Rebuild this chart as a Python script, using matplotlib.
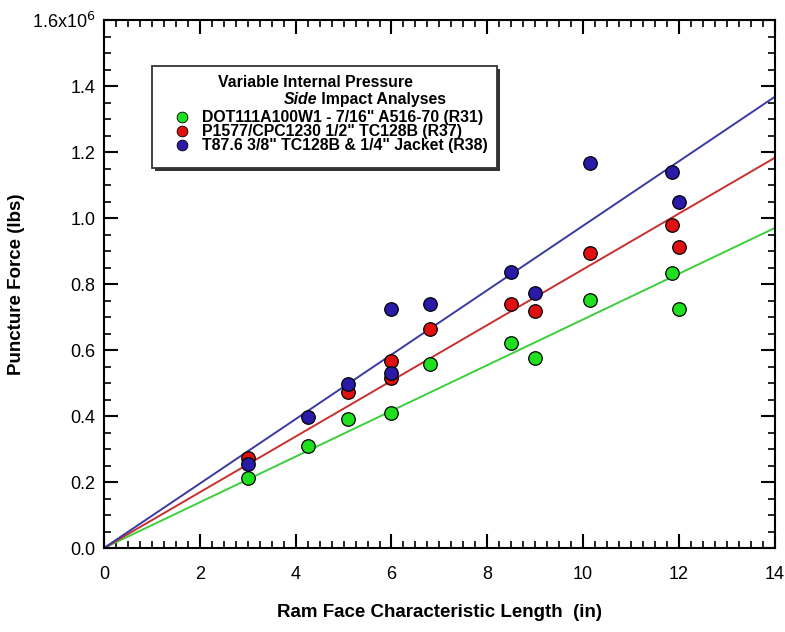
import numpy as np
import matplotlib.pyplot as plt
from matplotlib.ticker import MultipleLocator, FuncFormatter
from matplotlib.patches import Rectangle

plt.rcParams['font.family'] = ['Liberation Sans', 'DejaVu Sans']

# ram face length (in) and puncture force (lbs)
x_r31 = [3.0, 4.25, 5.1, 6.0, 6.8, 8.5, 9.0, 10.15, 11.85, 12.0]
y_r31 = [0.213e6, 0.309e6, 0.390e6, 0.409e6, 0.557e6, 0.620e6, 0.576e6, 0.752e6, 0.833e6, 0.724e6]

x_r37 = [3.0, 5.1, 6.0, 6.0, 6.8, 8.5, 9.0, 10.15, 11.85, 12.0]
y_r37 = [0.273e6, 0.473e6, 0.567e6, 0.515e6, 0.664e6, 0.739e6, 0.718e6, 0.893e6, 0.980e6, 0.913e6]

x_r38 = [3.0, 4.25, 5.1, 6.0, 6.0, 6.8, 8.5, 9.0, 10.15, 11.85, 12.0]
y_r38 = [0.255e6, 0.397e6, 0.497e6, 0.724e6, 0.530e6, 0.739e6, 0.836e6, 0.772e6, 1.167e6, 1.140e6, 1.050e6]

labels = ['DOT111A100W1 - 7/16" A516-70 (R31)',
          'P1577/CPC1230 1/2" TC128B (R37)',
          'T87.6 3/8" TC128B & 1/4" Jacket (R38)']
point_colors = ['#1ee01e', '#e01010', '#2a1aa8']
line_colors = ['#3ccf3c', '#c83030', '#3a3aa0']

series = [(x_r31, y_r31), (x_r37, y_r37), (x_r38, y_r38)]

fig = plt.figure(figsize=(7.85, 6.32), dpi=100)
ax = fig.add_axes([0.1325, 0.1329, 0.8545, 0.8354])

xl = np.array([0, 14])
for (xs, ys), pc, lc in zip(series, point_colors, line_colors):
    xs = np.array(xs)
    ys = np.array(ys)
    # least squares line through the origin
    k = np.sum(xs * ys) / np.sum(xs * xs)
    ax.plot(xl, k * xl, color=lc, lw=1.4, zorder=2)
    ax.scatter(xs, ys, s=95, color=pc, edgecolor='black', linewidth=0.9, zorder=3)

ax.set_xlim(0, 14)
ax.set_ylim(0, 1.6e6)
ax.xaxis.set_major_locator(MultipleLocator(2))
ax.xaxis.set_minor_locator(MultipleLocator(0.25))
ax.yaxis.set_major_locator(MultipleLocator(0.2e6))
ax.yaxis.set_minor_locator(MultipleLocator(0.05e6))


def yfmt(v, pos):
    if abs(v - 1.6e6) < 1:
        return '1.6x10$^6$'
    return '%.1f' % (v / 1e6)


ax.yaxis.set_major_formatter(FuncFormatter(yfmt))
ax.tick_params(which='both', direction='in', top=True, right=True, width=1.5)
ax.tick_params(which='major', length=10, labelsize=13, pad=6)
ax.tick_params(axis='x', which='major', pad=13)
ax.tick_params(which='minor', length=5, width=1.2)
for sp in ax.spines.values():
    sp.set_linewidth(1.5)

ax.set_xlabel('Ram Face Characteristic Length  (in)', fontsize=13.5, fontweight='bold')
ax.set_ylabel('Puncture Force (lbs)', fontsize=13.5, fontweight='bold')
ax.xaxis.set_label_coords(0.5, -0.106)
ax.yaxis.set_label_coords(-0.118, 0.5)

# legend box
bx0, by0, bw, bh = 0.0715, 0.72, 0.515, 0.193
ax.add_patch(Rectangle((bx0 + 0.004, by0 - 0.006), bw, bh, transform=ax.transAxes,
                       facecolor='#333333', edgecolor='none', zorder=4))
ax.add_patch(Rectangle((bx0, by0), bw, bh, transform=ax.transAxes,
                       facecolor='white', edgecolor='#333333', lw=1.3, zorder=5))
ax.text(0.315, 0.882, 'Variable Internal Pressure', transform=ax.transAxes,
        ha='center', va='center', fontsize=11.4, fontweight='bold', zorder=6)
ax.text(0.318, 0.849, 'Side', transform=ax.transAxes, ha='right', va='center',
        fontsize=11.4, fontweight='bold', style='italic', zorder=6)
ax.text(0.318, 0.849, ' Impact Analyses', transform=ax.transAxes, ha='left', va='center',
        fontsize=11.4, fontweight='bold', zorder=6)
for i, (lab, pc) in enumerate(zip(labels, point_colors)):
    yy = 0.816 - i * 0.0268
    ax.scatter([0.116], [yy], s=60, color=pc, edgecolor='black', linewidth=0.6,
               transform=ax.transAxes, zorder=6, clip_on=False)
    ax.text(0.146, yy, lab, transform=ax.transAxes, ha='left', va='center',
            fontsize=11.4, fontweight='bold', zorder=6)

fig.savefig('out.png', dpi=100)
